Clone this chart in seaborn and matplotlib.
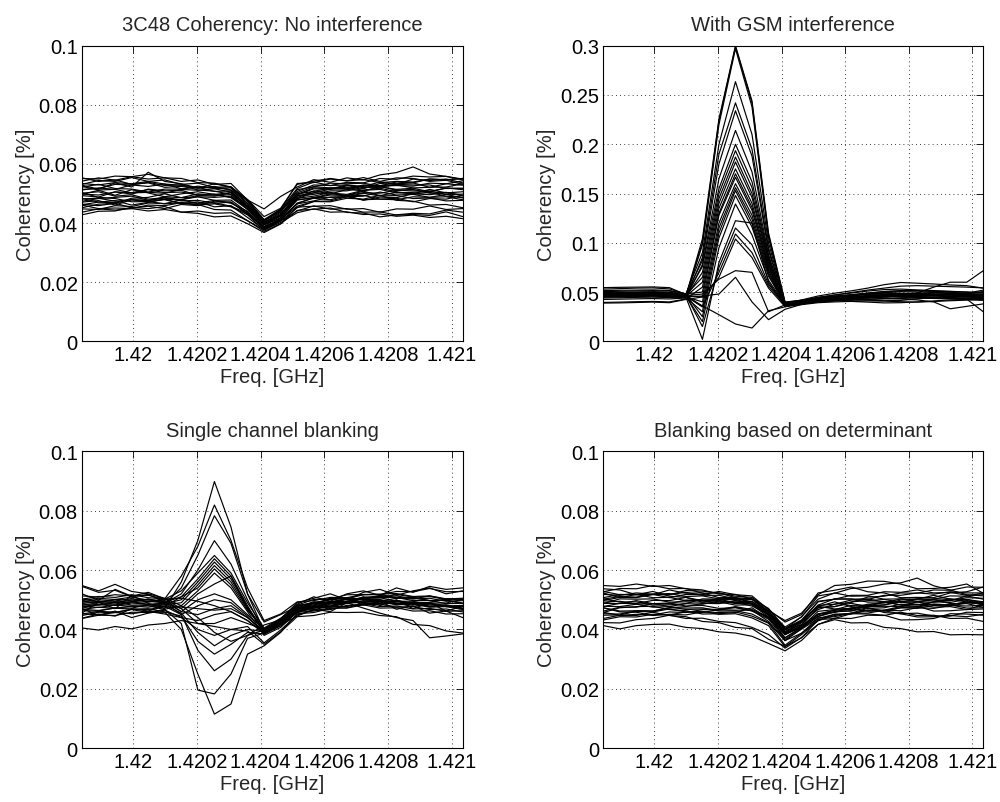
import numpy as np
import pandas as pd
import matplotlib
matplotlib.use("Agg")
import matplotlib.pyplot as plt
import seaborn as sns

# ---------------- data (coherency values in units of 1e-4) ----------------
freq_start = 1.419839
freq_stop = 1.421035
n_channels = 24

x_ticks = [1.42, 1.4202, 1.4204, 1.4206, 1.4208, 1.421]
x_ticklabels = ["1.42", "1.4202", "1.4204", "1.4206", "1.4208", "1.421"]
y_ticks_small = [0, 0.02, 0.04, 0.06, 0.08, 0.1]
y_ticklabels_small = ["0", "0.02", "0.04", "0.06", "0.08", "0.1"]
y_ticks_gsm = [0, 0.05, 0.1, 0.15, 0.2, 0.25, 0.3]
y_ticklabels_gsm = ["0", "0.05", "0.1", "0.15", "0.2", "0.25", "0.3"]

titles = ["3C48 Coherency: No interference", "With GSM interference",
          "Single channel blanking", "Blanking based on determinant"]

no_interference = [
    [528,515,536,522,572,541,533,519,524,512,478,448,490,522,547,538,553,546,563,571,590,566,558,549],
    [497,511,494,513,502,489,499,506,497,503,452,401,433,486,509,502,497,511,518,506,498,504,491,487],
    [483,471,476,461,470,481,466,472,455,459,419,378,412,468,484,479,493,477,488,486,499,496,503,492],
    [542,553,545,557,549,553,541,546,531,534,478,412,447,534,537,549,543,554,541,553,551,541,545,531],
    [428,440,441,453,449,456,437,433,421,424,398,368,397,443,447,451,436,434,421,428,433,431,444,437],
    [464,459,467,452,457,449,463,459,474,471,433,383,418,479,486,499,494,508,493,504,499,514,502,506],
    [512,519,514,529,524,532,516,521,507,509,457,407,443,497,519,516,529,524,539,533,536,521,533,528],
    [493,488,506,498,515,509,511,494,498,486,447,388,427,482,503,498,514,509,523,514,518,506,519,513],
    [474,483,487,491,477,479,466,463,446,444,408,372,398,454,457,459,447,449,437,448,447,458,446,449],
    [553,541,546,531,536,521,524,518,533,521,478,408,447,517,539,527,529,516,534,531,549,544,549,536],
    [501,506,491,496,481,486,479,494,491,503,453,397,428,499,507,519,516,529,526,539,536,549,546,551],
    [448,446,459,456,468,466,478,467,469,457,433,383,407,441,458,447,449,437,438,427,429,426,438,422],
    [531,544,541,554,541,546,531,535,521,523,473,408,442,507,529,527,538,536,551,548,559,556,558,546],
    [471,476,461,479,476,489,486,499,494,496,447,397,423,484,491,504,492,494,481,484,472,483,481,494],
    [524,512,514,502,504,501,514,511,516,505,462,402,428,495,516,514,526,522,524,511,514,501,504,494],
    [452,464,467,484,487,499,486,489,477,478,437,382,412,457,473,472,484,481,494,477,474,461,463,452],
    [514,517,531,529,538,527,529,519,521,512,466,403,437,502,523,519,521,511,514,502,504,507,518,517],
    [482,484,474,479,471,481,479,489,487,491,446,394,418,478,485,495,493,503,501,511,509,509,497,498],
    [534,529,537,533,541,532,528,512,508,497,458,396,426,493,502,515,515,527,527,529,519,521,522,533],
    [437,448,444,449,441,446,437,441,433,435,408,377,402,435,448,437,438,429,431,423,427,419,423,415],
    [498,495,505,503,513,503,505,495,497,487,454,395,426,491,497,509,509,521,521,531,529,529,517,518],
    [462,471,469,479,477,485,475,477,467,471,430,388,410,465,475,488,489,501,492,493,483,485,475,477],
    [551,549,559,557,565,553,551,537,535,522,480,422,450,531,542,551,543,547,537,541,539,549,547,551],
    [503,487,483,472,473,465,469,461,465,455,428,376,407,452,473,475,489,491,505,495,497,487,489,479],
    [522,531,517,515,505,515,515,525,517,519,467,410,440,513,523,535,533,535,525,527,525,535,533,543],
    [461,449,451,449,461,459,469,467,477,467,440,386,416,465,487,487,489,479,481,479,489,487,497,485],
]

gsm_interference = [
    [470,476,472,478,471,460,1040,2256,3000,2440,1100,400,415,445,452,468,475,489,482,478,470,478,488,505],
    [486,489,492,495,490,465,1000,2240,2990,2420,1080,390,405,438,458,470,488,505,512,515,506,498,486,475],
    [455,462,459,466,462,452,980,2200,2970,2380,1050,395,418,430,440,445,452,458,452,448,442,440,437,432],
    [505,508,512,514,510,478,900,2000,2635,2100,1000,380,395,430,448,462,475,480,480,490,550,600,600,717],
    [440,442,446,448,444,441,850,1900,2420,1950,950,370,392,412,425,432,440,448,452,458,462,470,475,468],
    [530,535,540,542,532,480,820,1800,2340,1880,920,385,420,460,488,512,540,575,597,590,582,572,565,540],
    [425,428,431,434,430,440,780,1650,2140,1720,880,360,378,400,412,420,418,412,415,430,445,460,470,458],
    [478,482,487,490,486,462,760,1550,2000,1620,860,375,410,445,470,490,510,525,530,522,515,508,500,492],
    [460,463,466,470,466,451,700,1500,1935,1560,840,365,392,420,432,448,460,470,476,482,490,486,478,470],
    [495,498,500,503,498,470,650,1450,1870,1500,820,380,398,428,440,450,462,474,470,466,460,455,450,445],
    [470,472,476,478,474,457,600,1400,1820,1460,800,370,388,410,418,405,398,390,392,400,410,420,425,416],
    [395,398,402,405,400,430,550,1350,1750,1400,780,355,380,405,415,420,425,430,435,440,438,436,430,420],
    [515,518,520,522,516,482,500,1300,1700,1360,760,385,410,445,470,495,520,540,560,565,560,555,550,542],
    [482,485,489,492,487,463,450,1280,1665,1330,740,372,400,428,438,444,452,460,450,440,435,430,428,300],
    [465,467,469,472,468,452,400,1200,1600,1280,720,362,388,414,428,440,452,464,476,486,482,478,474,466],
    [488,491,494,497,492,466,350,1150,1560,1240,700,378,402,432,446,455,462,468,462,452,446,440,436,430],
    [448,451,455,458,453,445,300,1100,1530,1200,680,358,380,400,410,420,428,436,430,420,400,330,355,380],
    [545,548,550,552,545,474,250,1050,1480,1160,660,382,410,440,458,474,490,505,515,512,508,505,500,490],
    [473,475,478,481,476,459,200,950,1394,1080,620,372,395,422,432,442,450,458,452,446,440,448,456,450],
    [452,454,457,460,455,447,20,800,1224,1200,600,360,388,410,420,430,440,450,460,468,472,480,485,478],
    [492,494,497,500,494,468,150,750,1150,980,580,376,402,435,452,468,482,494,504,500,496,492,488,520],
    [468,471,474,477,472,456,350,700,1089,900,560,365,392,418,428,436,444,452,460,466,470,474,470,462],
    [388,390,394,398,392,425,450,650,1038,850,540,352,372,392,400,405,410,408,402,398,404,412,418,425],
    [485,488,491,494,489,465,480,630,717,700,300,370,405,438,454,468,480,492,488,482,476,470,465,458],
    [462,465,468,471,466,451,460,480,650,400,220,325,375,410,425,436,446,455,465,472,465,458,450,442],
    [478,480,483,486,481,461,360,270,176,135,310,350,390,420,436,448,458,468,462,455,448,442,436,430],
]

single_channel_blanking = [
    [455,492,470,515,488,470,560,700,898,745,520,425,450,477,493,492,503,502,501,489,491,491,503,502],
    [520,498,535,512,525,503,580,680,819,700,540,430,452,493,497,508,507,518,517,528,527,538,527,528],
    [463,462,473,472,483,487,540,650,783,690,520,395,428,460,492,478,505,482,495,468,480,455,462,440],
    [477,485,481,489,485,488,520,600,699,620,500,390,417,468,475,489,491,505,507,508,497,498,487,488],
    [513,509,517,513,515,502,530,590,649,590,490,405,438,482,501,503,517,517,518,507,508,497,498,487],
    [447,458,457,468,467,478,510,570,638,580,480,385,412,463,467,478,477,488,487,498,487,488,477,478],
    [493,491,501,499,501,487,500,560,627,570,475,398,431,472,491,491,503,503,515,505,507,497,499,489],
    [467,475,471,479,475,483,490,550,615,560,470,392,419,471,475,489,491,503,493,495,485,487,477,479],
    [545,525,532,510,518,492,510,540,604,550,465,402,435,490,505,520,500,525,535,515,530,540,520,530],
    [437,448,447,458,457,468,480,530,590,540,460,380,407,458,462,473,472,483,472,473,462,463,452,453],
    [483,482,493,492,503,492,470,520,553,580,470,395,428,472,480,505,488,510,480,500,470,490,462,478],
    [497,505,501,509,499,498,460,500,520,500,450,400,427,481,489,503,505,503,489,489,477,489,489,501],
    [438,452,445,470,462,478,450,480,500,490,445,385,418,459,475,477,491,493,495,485,487,477,479,469],
    [487,495,491,499,495,493,460,450,470,480,440,392,415,473,479,493,495,509,511,513,503,505,495,497],
    [470,448,462,440,455,465,440,430,450,460,430,388,415,457,473,475,489,491,493,483,485,475,477,467],
    [502,511,508,517,507,503,470,420,420,440,420,400,422,479,487,501,503,517,519,521,511,513,503,505],
    [453,449,457,453,461,452,440,400,380,400,410,355,398,449,465,467,481,483,485,475,477,467,469,459],
    [482,490,486,494,484,483,455,390,345,380,400,393,415,469,475,489,491,505,495,497,487,489,479,481],
    [468,464,472,468,470,459,445,360,317,350,390,385,415,445,468,460,490,472,455,440,430,372,378,385],
    [492,500,496,504,494,491,450,330,261,300,380,415,432,475,483,495,495,507,507,518,509,511,501,503],
    [478,474,482,478,480,467,420,196,183,250,370,388,417,459,477,479,493,495,497,487,489,479,481,471],
    [452,461,458,467,457,458,400,250,115,149,317,345,390,453,457,471,473,487,477,479,469,471,461,463],
    [548,530,552,528,520,505,480,440,390,360,380,398,433,485,510,495,520,530,515,540,525,545,535,540],
    [405,398,410,402,415,420,430,420,410,400,395,350,392,443,447,458,457,458,447,443,417,413,395,388],
    [503,492,493,482,483,475,476,470,465,470,440,392,423,467,487,489,503,505,507,495,495,483,483,472],
    [472,483,482,493,492,503,505,495,480,460,430,386,413,465,471,485,487,497,495,505,503,513,502,503],
]

determinant_blanking = [
    [523,507,518,517,533,522,523,507,508,487,463,430,455,517,548,552,563,562,553,537,538,542,553,522],
    [477,488,487,498,497,508,497,498,487,488,447,393,417,473,477,488,477,478,477,493,492,503,492,493],
    [413,402,413,417,418,407,403,392,388,377,353,328,363,417,433,422,423,407,403,392,393,382,383,382],
    [457,473,477,478,467,463,452,453,457,473,437,383,407,453,457,473,477,493,482,478,462,463,467,483],
    [503,492,493,482,483,487,503,502,501,487,458,392,428,477,493,477,473,462,473,477,493,497,513,502],
    [437,448,447,458,447,443,427,423,407,403,367,343,372,433,437,453,452,448,432,433,437,453,452,448],
    [527,538,537,548,537,538,522,523,512,508,467,408,442,513,522,538,542,553,557,573,547,533,517,513],
    [473,462,463,462,473,477,488,487,498,485,453,382,413,452,465,467,481,482,493,492,503,502,498,482],
    [507,518,517,528,512,508,492,493,482,483,442,385,415,473,477,493,497,501,492,493,482,483,472,473],
    [453,452,463,462,473,472,473,462,463,452,423,362,403,445,461,462,473,457,453,442,443,445,458,457],
    [487,503,502,503,492,493,492,503,502,503,457,403,432,493,502,503,492,493,492,503,502,513,512,523],
    [423,422,433,437,448,437,438,427,423,407,383,337,373,417,438,437,448,447,458,447,448,437,438,427],
    [537,533,517,518,507,518,517,528,517,513,467,425,450,523,532,543,527,523,507,508,507,523,527,543],
    [478,477,485,475,477,467,469,467,477,467,443,372,408,449,465,469,485,489,503,502,501,487,487,475],
    [502,511,509,519,517,525,515,515,503,501,459,401,425,481,485,499,501,515,515,523,519,527,523,523],
    [458,447,451,449,459,457,467,465,475,462,435,367,401,437,451,452,465,465,477,475,485,483,493,483],
    [528,517,518,507,508,497,498,489,491,479,451,385,423,467,485,491,509,512,523,522,533,532,543,542],
    [462,475,475,487,487,499,499,501,491,489,449,387,409,461,467,481,482,493,483,485,475,477,467,469],
    [488,487,497,487,489,479,481,471,473,463,441,372,405,443,459,463,479,483,499,502,515,502,501,489],
    [432,443,442,451,449,459,457,467,465,465,427,363,387,439,443,455,455,465,463,473,471,481,479,481],
    [518,515,523,519,521,511,513,503,505,493,461,389,428,482,503,502,503,492,493,483,485,483,493,491],
    [492,495,485,487,477,487,485,495,493,495,452,403,427,478,469,471,461,463,453,455,445,447,443,451],
    [548,545,553,545,548,537,533,519,518,502,471,402,443,502,523,512,513,502,503,495,499,497,507,505],
    [473,459,458,447,451,449,459,457,459,445,421,347,388,432,451,453,465,463,473,471,481,479,489,487],
    [497,508,507,518,517,531,529,523,507,503,462,398,429,495,502,515,515,527,525,533,523,525,515,517],
    [448,449,461,459,469,459,461,451,453,439,413,342,383,429,447,455,471,473,485,483,493,491,501,493],
]

# ---------------- styling ----------------
FS = 14.5
sns.set_theme(style="white")
plt.rcParams['font.family'] = ['Liberation Sans', 'DejaVu Sans']
plt.rcParams['font.size'] = FS
plt.rcParams['xtick.direction'] = 'in'
plt.rcParams['ytick.direction'] = 'in'

freqs = np.linspace(freq_start, freq_stop, n_channels)


def to_frame(rows):
    recs = []
    for li, row in enumerate(rows):
        for f, v in zip(freqs, row):
            recs.append((li, f, v * 1e-4))
    return pd.DataFrame(recs, columns=["line", "freq", "coh"])


fig = plt.figure(figsize=(10, 8.03), dpi=100)
positions = [
    [0.082, 0.5737, 0.3807, 0.3681],
    [0.6033, 0.5737, 0.3800, 0.3681],
    [0.082, 0.0669, 0.3807, 0.3699],
    [0.6033, 0.0669, 0.3800, 0.3699],
]
datasets = [no_interference, gsm_interference, single_channel_blanking, determinant_blanking]

for i, (pos, rows, title) in enumerate(zip(positions, datasets, titles)):
    ax = fig.add_axes(pos)
    df = to_frame(rows)
    sns.lineplot(data=df, x="freq", y="coh", units="line", estimator=None,
                 color="black", linewidth=0.85, legend=False, ax=ax, sort=False)
    ax.set_xlim(freq_start, freq_stop)
    if i == 1:
        ax.set_ylim(0, 0.3)
        ax.set_yticks(y_ticks_gsm)
        ax.set_yticklabels(y_ticklabels_gsm)
    else:
        ax.set_ylim(0, 0.1)
        ax.set_yticks(y_ticks_small)
        ax.set_yticklabels(y_ticklabels_small)
    ax.set_xticks(x_ticks)
    ax.set_xticklabels(x_ticklabels)
    ax.grid(True, linestyle=(0, (1, 4)), color="black", linewidth=0.6)
    ax.tick_params(axis="both", which="both", direction="in", length=5, width=0.6,
                   top=True, right=True, labelsize=FS, colors="black", pad=3)
    for sp in ax.spines.values():
        sp.set_color("black")
        sp.set_linewidth(0.8)
        sp.set_visible(True)
    ax.set_title(title, fontsize=FS, pad=11)
    ax.set_xlabel("Freq. [GHz]", fontsize=FS, labelpad=2)
    ax.set_ylabel("Coherency [%]", fontsize=FS, labelpad=3)
    ax.set_facecolor("white")

fig.savefig("out.png", dpi=100, facecolor="white")
